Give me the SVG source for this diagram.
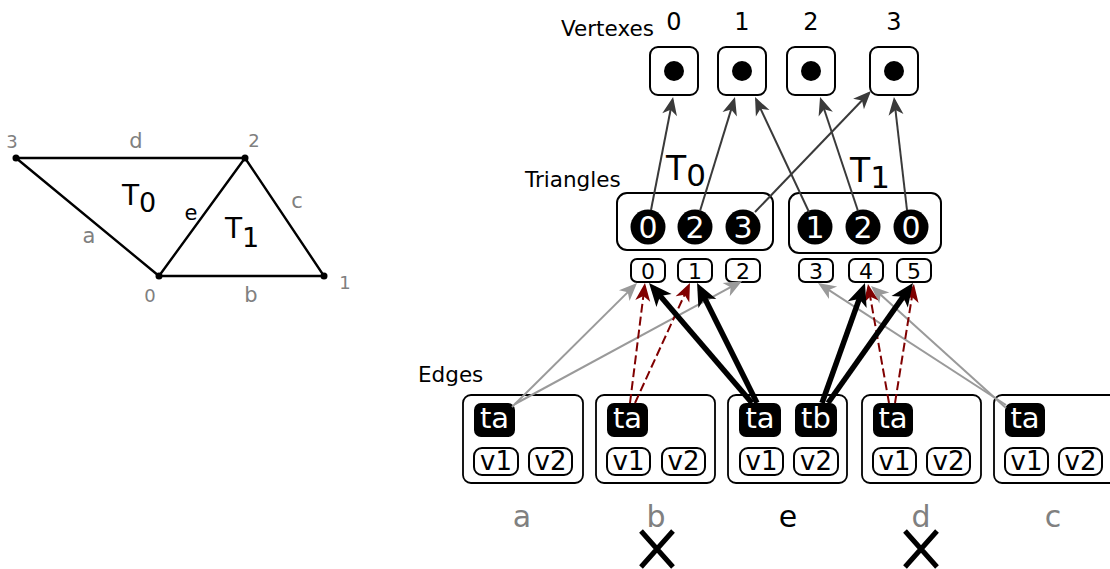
<svg xmlns="http://www.w3.org/2000/svg" width="1110" height="569" viewBox="0 0 1110 569">
<style>
text{font-family:"DejaVu Sans","Liberation Sans",sans-serif}
.gl{fill:#808080}
.mesh{stroke:#000;stroke-width:2.4;fill:none}
.box{fill:#fff;stroke:#000;stroke-width:2}
.ebox{fill:#fff;stroke:#000;stroke-width:1.8}
.blk{fill:#000}
.wt{fill:#fff;font-size:29px;text-anchor:middle}
.cd{fill:#fff;font-size:30px;text-anchor:middle}
.bt{fill:#000;text-anchor:middle}
.vv{fill:#000;text-anchor:middle;font-size:26px}
.ix{fill:#000;text-anchor:middle;font-size:22px}
.dg{stroke:#3a3a3a;stroke-width:2;fill:none;marker-end:url(#mDg)}
.gy{stroke:#9a9a9a;stroke-width:2;fill:none;marker-end:url(#mGy)}
.rd{stroke:#800000;stroke-width:2;fill:none;stroke-dasharray:9 4;marker-end:url(#mRd)}
.bk{stroke:#000;stroke-width:5.5;fill:none;marker-end:url(#mBk)}
.x{stroke:#000;stroke-width:5}
</style>
<defs>
<marker id="mDg" markerUnits="userSpaceOnUse" orient="auto" refX="-3" refY="0" markerWidth="30" markerHeight="30" overflow="visible"><path d="M0,0 L-18,-7.5 L-13,0 L-18,7.5 Z" fill="#3a3a3a"/></marker>
<marker id="mGy" markerUnits="userSpaceOnUse" orient="auto" refX="-3" refY="0" markerWidth="30" markerHeight="30" overflow="visible"><path d="M0,0 L-18,-7.5 L-13,0 L-18,7.5 Z" fill="#9a9a9a"/></marker>
<marker id="mRd" markerUnits="userSpaceOnUse" orient="auto" refX="-3" refY="0" markerWidth="30" markerHeight="30" overflow="visible"><path d="M0,0 L-18,-7.5 L-13,0 L-18,7.5 Z" fill="#800000"/></marker>
<marker id="mBk" markerUnits="userSpaceOnUse" orient="auto" refX="-7" refY="0" markerWidth="40" markerHeight="40" overflow="visible"><path d="M0,0 L-23,-10 L-17,0 L-23,10 Z" fill="#000"/></marker>
</defs>
<rect width="1110" height="569" fill="#fff"/>

<g id="mesh">
<path class="mesh" d="M16,158 L245,158 L324,276 L159,276 Z M16,158 L159,276 M159,276 L245,158"/>
<circle cx="16" cy="158" r="3.5"/><circle cx="245" cy="158" r="3.5"/><circle cx="159" cy="276" r="3.5"/><circle cx="324" cy="276" r="3.5"/>
<text class="gl" x="12" y="148" font-size="18" text-anchor="middle">3</text>
<text class="gl" x="254" y="147" font-size="18" text-anchor="middle">2</text>
<text class="gl" x="150" y="302" font-size="18" text-anchor="middle">0</text>
<text class="gl" x="345" y="289" font-size="18" text-anchor="middle">1</text>
<text class="gl" x="136" y="148" font-size="21" text-anchor="middle">d</text>
<text class="gl" x="89" y="243" font-size="21" text-anchor="middle">a</text>
<text class="gl" x="251" y="302" font-size="21" text-anchor="middle">b</text>
<text class="gl" x="297" y="208" font-size="21" text-anchor="middle">c</text>
<text x="191" y="220" font-size="21" text-anchor="middle">e</text>
<text x="122" y="205" font-size="28">T<tspan font-size="27" dy="7">0</tspan></text>
<text x="225" y="238" font-size="28">T<tspan font-size="27" dy="9">1</tspan></text>
</g>

<g id="labels">
<text x="561" y="36" font-size="21.5">Vertexes</text>
<text x="525" y="187" font-size="21.5">Triangles</text>
<text x="418" y="382" font-size="21.5">Edges</text>
<text x="666" y="180" font-size="33">T<tspan font-size="31" dy="6">0</tspan></text>
<text x="850" y="182" font-size="33">T<tspan font-size="31" dy="6">1</tspan></text>
</g>

<g id="vertex0"><text class="bt" x="674" y="30" font-size="24">0</text><rect class="box" x="650" y="47" width="48" height="48" rx="8"/><circle cx="674" cy="71" r="10"/></g>
<g id="vertex1"><text class="bt" x="742" y="30" font-size="24">1</text><rect class="box" x="718" y="47" width="48" height="48" rx="8"/><circle cx="742" cy="71" r="10"/></g>
<g id="vertex2"><text class="bt" x="811" y="30" font-size="24">2</text><rect class="box" x="787" y="47" width="48" height="48" rx="8"/><circle cx="811" cy="71" r="10"/></g>
<g id="vertex3"><text class="bt" x="894" y="30" font-size="24">3</text><rect class="box" x="870" y="47" width="48" height="48" rx="8"/><circle cx="894" cy="71" r="10"/></g>

<g id="triangle0">
<rect class="box" x="617" y="193" width="156" height="57" rx="10"/>
<circle cx="648" cy="227" r="17.5"/><text class="cd" x="648" y="238">0</text>
<circle cx="695" cy="227" r="17.5"/><text class="cd" x="695" y="238">2</text>
<circle cx="743" cy="227" r="17.5"/><text class="cd" x="743" y="238">3</text>
</g>
<g id="triangle1">
<rect class="box" x="789" y="193" width="152" height="60" rx="10"/>
<circle cx="815" cy="227" r="17.5"/><text class="cd" x="815" y="238">1</text>
<circle cx="863" cy="227" r="17.5"/><text class="cd" x="863" y="238">2</text>
<circle cx="911" cy="227" r="17.5"/><text class="cd" x="911" y="238">0</text>
</g>

<g id="halfedges">
<rect class="box" x="631" y="259" width="34" height="23" rx="6"/><text class="ix" x="648" y="278.5">0</text>
<rect class="box" x="678" y="259" width="34" height="23" rx="6"/><text class="ix" x="695" y="278.5">1</text>
<rect class="box" x="726" y="259" width="34" height="23" rx="6"/><text class="ix" x="743" y="278.5">2</text>
<rect class="box" x="799" y="259" width="34" height="23" rx="6"/><text class="ix" x="816" y="278.5">3</text>
<rect class="box" x="849" y="259" width="34" height="23" rx="6"/><text class="ix" x="866" y="278.5">4</text>
<rect class="box" x="897" y="259" width="34" height="23" rx="6"/><text class="ix" x="914" y="278.5">5</text>
</g>

<g id="edge-a">
<rect class="ebox" x="463" y="395" width="120" height="88" rx="8"/>
<rect class="blk" x="474" y="403" width="41" height="34" rx="7"/><text class="wt" x="494.5" y="428">ta</text>
<rect class="box" x="474" y="448" width="44" height="27" rx="8"/><text class="vv" x="496" y="470">v1</text>
<rect class="box" x="529" y="448" width="43" height="27" rx="8"/><text class="vv" x="550.5" y="470">v2</text>
<text class="gl" x="522" y="527" font-size="30" text-anchor="middle">a</text>
</g>
<g id="edge-b">
<rect class="ebox" x="596" y="395" width="119" height="88" rx="8"/>
<rect class="blk" x="607" y="403" width="41" height="34" rx="7"/><text class="wt" x="627.5" y="428">ta</text>
<rect class="box" x="607" y="448" width="43" height="27" rx="8"/><text class="vv" x="628.5" y="470">v1</text>
<rect class="box" x="662" y="448" width="43" height="27" rx="8"/><text class="vv" x="683.5" y="470">v2</text>
<text class="gl" x="656" y="527" font-size="30" text-anchor="middle">b</text>
</g>
<g id="edge-e">
<rect class="ebox" x="728" y="395" width="119" height="88" rx="8"/>
<rect class="blk" x="739" y="403" width="42" height="34" rx="7"/><text class="wt" x="760" y="428">ta</text>
<rect class="blk" x="795" y="403" width="42" height="34" rx="7"/><text class="wt" x="816" y="428">tb</text>
<rect class="box" x="740" y="448" width="43" height="27" rx="8"/><text class="vv" x="761.5" y="470">v1</text>
<rect class="box" x="794" y="448" width="44" height="27" rx="8"/><text class="vv" x="816" y="470">v2</text>
<text x="788" y="527" font-size="30" text-anchor="middle">e</text>
</g>
<g id="edge-d">
<rect class="ebox" x="862" y="395" width="119" height="88" rx="8"/>
<rect class="blk" x="873" y="403" width="40" height="34" rx="7"/><text class="wt" x="893" y="428">ta</text>
<rect class="box" x="873" y="448" width="43" height="27" rx="8"/><text class="vv" x="894.5" y="470">v1</text>
<rect class="box" x="927" y="448" width="43" height="27" rx="8"/><text class="vv" x="948.5" y="470">v2</text>
<text class="gl" x="921" y="527" font-size="30" text-anchor="middle">d</text>
</g>
<g id="edge-c">
<rect class="ebox" x="994" y="395" width="125" height="88" rx="8"/>
<rect class="blk" x="1005" y="403" width="40" height="34" rx="7"/><text class="wt" x="1025" y="428">ta</text>
<rect class="box" x="1005" y="448" width="43" height="27" rx="8"/><text class="vv" x="1026.5" y="470">v1</text>
<rect class="box" x="1059" y="448" width="43" height="27" rx="8"/><text class="vv" x="1080.5" y="470">v2</text>
<text class="gl" x="1053" y="527" font-size="30" text-anchor="middle">c</text>
</g>

<g id="removed">
<path class="x" d="M641,531 L673,567 M673,531 L641,567"/>
<path class="x" d="M905,531 L937,567 M937,531 L905,567"/>
</g>

<g id="connectors">
<path class="dg" d="M651,210 L672.5,100"/>
<path class="dg" d="M700,211 L734.1,99.9"/>
<path class="dg" d="M755,212 L868.9,93.2"/>
<path class="dg" d="M809,212 L756.3,99.7"/>
<path class="dg" d="M858,211 L821,99.8"/>
<path class="dg" d="M907,210 L894.3,100"/>
<path class="gy" d="M512,407 L634.9,285.1"/>
<path class="gy" d="M515,404 L739.4,282.4"/>
<path class="gy" d="M1006,405 L820.5,284.6"/>
<path class="gy" d="M1006,408 L873.2,288"/>
<path class="rd" d="M630,403 L644.6,286"/>
<path class="rd" d="M635,403 L688.7,285.7"/>
<path class="rd" d="M889,403 L868.5,287"/>
<path class="rd" d="M895,403 L913.5,287"/>
<path class="bk" d="M752,403 L653.6,288.3"/>
<path class="bk" d="M757,403 L700.2,289.2"/>
<path class="bk" d="M822,403 L862.6,289.6"/>
<path class="bk" d="M828,403 L908.9,288.7"/>
</g>
</svg>
